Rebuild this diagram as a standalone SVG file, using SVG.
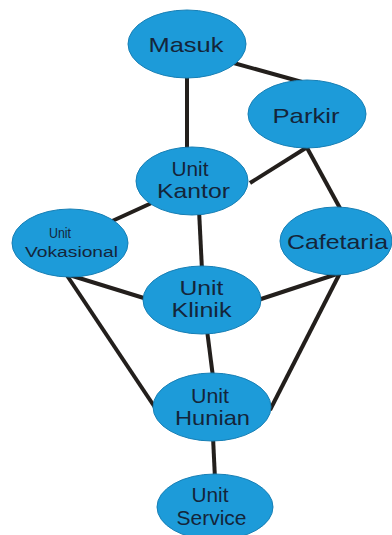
<svg xmlns="http://www.w3.org/2000/svg" width="392" height="535" viewBox="0 0 392 535">
<style>
.n{fill:#1d9bd9;stroke:#177fb5;stroke-width:1}
.e{stroke:#231f1c;stroke-width:4;fill:none;stroke-linecap:butt}
text{font-family:"Liberation Sans",Arial,sans-serif;font-size:21px;fill:#14253a;text-anchor:middle}
.s{font-size:14px}
</style>
<rect width="392" height="535" fill="#ffffff"/>
<g id="connectors">
<line class="e" x1="187" y1="70" x2="187" y2="155"/>
<line class="e" x1="230" y1="62" x2="302" y2="82"/>
<line class="e" x1="309" y1="146" x2="250" y2="183"/>
<line class="e" x1="306" y1="146" x2="341" y2="210"/>
<line class="e" x1="156" y1="201" x2="110" y2="222"/>
<line class="e" x1="199" y1="210" x2="202" y2="270"/>
<line class="e" x1="66" y1="274" x2="147" y2="299"/>
<line class="e" x1="66" y1="274" x2="156" y2="409"/>
<line class="e" x1="340" y1="273" x2="258" y2="300"/>
<line class="e" x1="340" y1="273" x2="270" y2="410"/>
<line class="e" x1="207" y1="330" x2="213" y2="377"/>
<line class="e" x1="213" y1="437" x2="215" y2="479"/>
</g>
<g id="masuk"><ellipse class="n" cx="187" cy="44" rx="59" ry="34"/><text x="186" y="51.5" textLength="75" lengthAdjust="spacingAndGlyphs">Masuk</text></g>
<g id="parkir"><ellipse class="n" cx="307" cy="114" rx="59" ry="34"/><text x="306" y="122.5" textLength="67" lengthAdjust="spacingAndGlyphs">Parkir</text></g>
<g id="unit-kantor"><ellipse class="n" cx="192" cy="181" rx="56" ry="34"/><text x="190" y="176" textLength="37" lengthAdjust="spacingAndGlyphs">Unit</text><text x="193.5" y="198" textLength="73" lengthAdjust="spacingAndGlyphs">Kantor</text></g>
<g id="unit-vokasional"><ellipse class="n" cx="70" cy="243" rx="58" ry="34"/><text class="s" x="60" y="238" textLength="22" lengthAdjust="spacingAndGlyphs">Unit</text><text class="s" x="71.5" y="257" textLength="93" lengthAdjust="spacingAndGlyphs">Vokasional</text></g>
<g id="cafetaria"><ellipse class="n" cx="336" cy="241" rx="56" ry="34"/><text x="337.5" y="248.5" textLength="101" lengthAdjust="spacingAndGlyphs">Cafetaria</text></g>
<g id="unit-klinik"><ellipse class="n" cx="202" cy="300" rx="59" ry="34"/><text x="201.5" y="295" textLength="44" lengthAdjust="spacingAndGlyphs">Unit</text><text x="201.5" y="317" textLength="60" lengthAdjust="spacingAndGlyphs">Klinik</text></g>
<g id="unit-hunian"><ellipse class="n" cx="212" cy="407" rx="59" ry="34"/><text x="210" y="403" textLength="38" lengthAdjust="spacingAndGlyphs">Unit</text><text x="212.5" y="425" textLength="75" lengthAdjust="spacingAndGlyphs">Hunian</text></g>
<g id="unit-service"><ellipse class="n" cx="215" cy="507" rx="58" ry="33"/><text x="210" y="502" textLength="37" lengthAdjust="spacingAndGlyphs">Unit</text><text x="211.5" y="525" textLength="70" lengthAdjust="spacingAndGlyphs">Service</text></g>
</svg>
